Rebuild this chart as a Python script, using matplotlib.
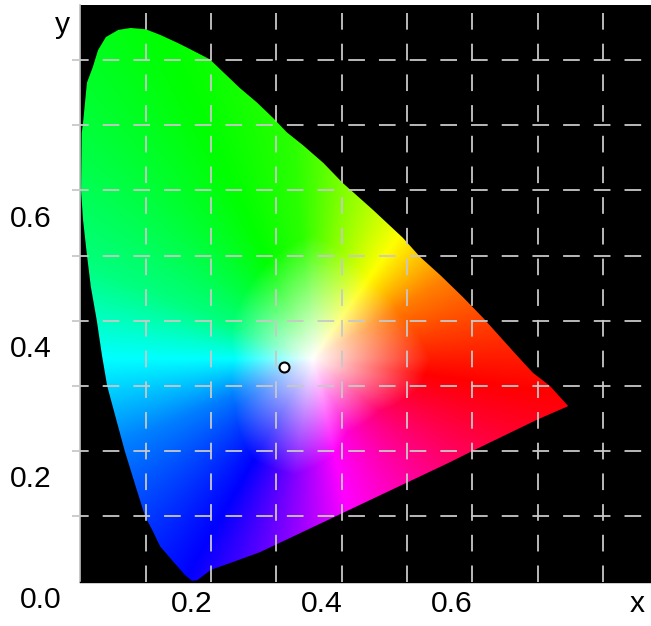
# CIE 1931 chromaticity diagram, white point and dashed grid

import numpy as np
import matplotlib
matplotlib.use('Agg')
import matplotlib.pyplot as plt
from matplotlib.colors import hsv_to_rgb
from matplotlib.patches import Polygon

plt.rcParams['font.family'] = ['Liberation Sans', 'DejaVu Sans']
plt.rcParams['lines.scale_dashes'] = False

# Outline of the colour region
locus_x = [0.171, 0.160, 0.140, 0.122, 0.110, 0.099, 0.084, 0.068, 0.055, 0.041,
           0.033, 0.025, 0.016, 0.010, 0.004, 0.001, 0.002, 0.004, 0.007, 0.010,
           0.019, 0.027, 0.039, 0.058, 0.077, 0.100, 0.123, 0.149, 0.163, 0.198,
           0.221, 0.244, 0.270, 0.295, 0.316, 0.341, 0.372, 0.402, 0.448, 0.494,
           0.520, 0.551, 0.586, 0.617, 0.643, 0.670, 0.693, 0.719, 0.747, 0.699,
           0.600, 0.566, 0.275, 0.234, 0.200, 0.179]
locus_y = [0.001, 0.010, 0.033, 0.054, 0.079, 0.100, 0.148, 0.200, 0.248, 0.300,
           0.347, 0.401, 0.452, 0.501, 0.555, 0.600, 0.688, 0.703, 0.734, 0.765,
           0.789, 0.815, 0.835, 0.846, 0.849, 0.847, 0.838, 0.826, 0.819, 0.801,
           0.779, 0.757, 0.735, 0.711, 0.689, 0.669, 0.642, 0.611, 0.570, 0.527,
           0.498, 0.470, 0.436, 0.404, 0.375, 0.345, 0.320, 0.300, 0.269, 0.248,
           0.200, 0.183, 0.045, 0.030, 0.018, 0.002]

white_point_x = [0.3113]
white_point_y = [0.329]

grid_x = [0.1, 0.2, 0.3, 0.4, 0.5, 0.6, 0.7, 0.8]
grid_y = [0.1, 0.2, 0.3, 0.4, 0.5, 0.6, 0.7, 0.8]

# Colour fill: hue by direction from the pale centre
fill_center = [0.356, 0.342]
hue_angles = [0, 31, 55, 80, 95, 115, 158, 180, 204, 240, 261, 283, 352, 360]
hue_degrees = [366, 390, 420, 450, 470, 480, 510, 540, 570, 600, 630, 660, 720, 726]
# how far (in axis units) the colour takes to reach full strength
reach_angles = [0, 27, 55, 90, 128, 180, 212, 240, 261, 283, 295, 322, 345, 360]
reach_values = [0.18, 0.15, 0.15, 0.19, 0.15, 0.12, 0.14, 0.18, 0.18, 0.15, 0.125, 0.13, 0.17, 0.18]

W, H = 651, 626
x_max = (W - 80.4) / 653
y_max = (581.5 - 5) / 652

xx, yy = np.meshgrid(np.linspace(0, x_max, 700), np.linspace(0, y_max, 700))
dx = xx - fill_center[0]
dy = yy - fill_center[1]
angle = np.degrees(np.arctan2(dy, dx)) % 360
dist = np.hypot(dx, dy)

hue = (np.interp(angle, hue_angles, hue_degrees) % 360) / 360
sat = np.clip(dist / np.interp(angle, reach_angles, reach_values), 0, 1)
rgb = hsv_to_rgb(np.stack([hue, sat, np.ones_like(hue)], axis=-1))

fig = plt.figure(figsize=(W / 100, H / 100), dpi=100, facecolor='white')
ax = fig.add_axes([80.4 / W, (H - 581.5) / H, (W - 80.4) / W, (581.5 - 5) / H])
ax.set_facecolor('black')
ax.set_xlim(0, x_max)
ax.set_ylim(0, y_max)
ax.set_xticks([])
ax.set_yticks([])

im = ax.imshow(rgb, origin='lower', extent=(0, x_max, 0, y_max), aspect='auto',
               interpolation='bilinear', zorder=1)
outline = Polygon(np.column_stack([locus_x, locus_y]), closed=True,
                  transform=ax.transData, facecolor='none', edgecolor='none')
ax.add_patch(outline)
im.set_clip_path(outline)

dash = (0, (12, 10.1))
for gx in grid_x:
    ax.plot([gx, gx], [y_max - 8 / 652, 0], color='#c8c8c8', lw=1.3, ls=dash, zorder=3)
for gy in grid_y:
    ax.plot([-8 / 653, x_max], [gy, gy], color='#c8c8c8', lw=1.3, ls=dash, zorder=3,
            clip_on=False)

ax.plot(white_point_x, white_point_y, 'o', ms=7.2, mfc='white', mec='black', mew=1.5, zorder=4)

for name, spine in ax.spines.items():
    spine.set_visible(name in ('left', 'bottom'))
ax.spines['left'].set_color('#c0c0c0')
ax.spines['left'].set_linewidth(1.2)
ax.spines['bottom'].set_color('black')
ax.spines['bottom'].set_linewidth(1.0)


def label(px, py, s):
    fig.text(px / W, 1 - py / H, s, fontsize=21.6, ha='center', va='center', color='black')


label(31, 219, '0.6')
label(31, 349, '0.4')
label(31, 479, '0.2')
label(41, 600, '0.0')
label(192, 604, '0.2')
label(322, 604, '0.4')
label(452, 604, '0.6')
label(637, 604, 'x')
label(62, 25, 'y')

fig.savefig('out.png', dpi=100)
